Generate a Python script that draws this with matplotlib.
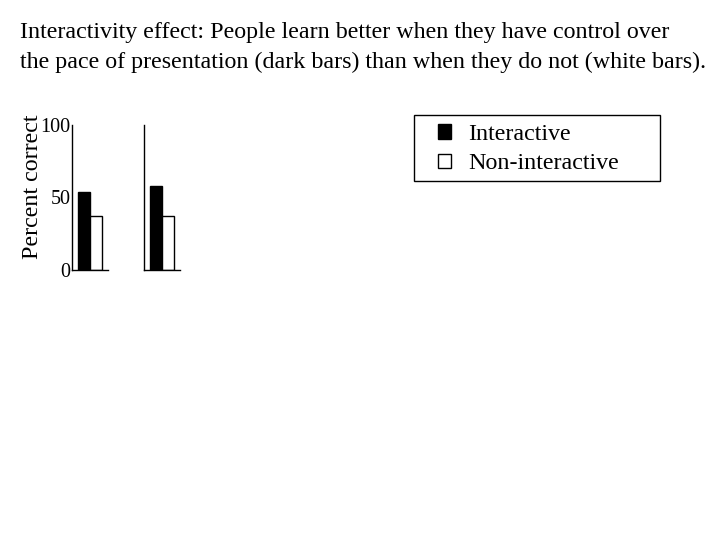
import matplotlib
matplotlib.use("Agg")
import matplotlib.pyplot as plt
from matplotlib.patches import Patch, Rectangle

groups = ["Group 1", "Group 2"]
interactive = [54, 58]
non_interactive = [37, 37]
yticks = [0, 50, 100]
ytick_labels = ["0", "50", "100"]
title_lines = ["Interactivity effect: People learn better when they have control over",
               "the pace of presentation (dark bars) than when they do not (white bars)."]
legend_labels = ["Interactive", "Non-interactive"]

plt.rcParams['font.family'] = ['Liberation Serif', 'DejaVu Serif']
W, H = 720, 540
fig = plt.figure(figsize=(7.2, 5.4), dpi=100)

fig.text(20 / W, 1 - 38 / H, title_lines[0], fontsize=17.3, va='baseline', ha='left')
fig.text(20 / W, 1 - 68 / H, title_lines[1], fontsize=17.3, va='baseline', ha='left')

panel_left = [72, 144]
for i, x0 in enumerate(panel_left):
    ax = fig.add_axes([x0 / W, 1 - 270 / H, 36 / W, 145 / H])
    ax.bar([0.5], [interactive[i]], width=1, align='edge', color='black', edgecolor='black', linewidth=1)
    ax.bar([1.5], [non_interactive[i]], width=1, align='edge', color='white', edgecolor='black', linewidth=1)
    ax.set_xlim(0, 3)
    ax.set_ylim(0, 100)
    for s in ['top', 'right']:
        ax.spines[s].set_visible(False)
    ax.spines['left'].set_linewidth(1)
    ax.spines['bottom'].set_linewidth(1)
    ax.set_xticks([])
    if i == 0:
        ax.set_yticks(yticks)
        ax.set_yticklabels(ytick_labels, fontsize=14.5)
        ax.tick_params(axis='y', length=0, pad=1)
    else:
        ax.set_yticks([])

fig.text(32 / W, 1 - 186.5 / H, "Percent correct", fontsize=17.3, rotation=90,
         ha='center', va='center')

fig.patches.append(Rectangle((414 / W, 1 - 181 / H), 246 / W, 66 / H,
                             transform=fig.transFigure, fill=False,
                             edgecolor='black', linewidth=1))

handles = [Patch(facecolor='black', edgecolor='black'),
           Patch(facecolor='white', edgecolor='black')]
leg = fig.legend(handles, legend_labels, loc='upper left',
                 bbox_to_anchor=(438 / W, 1 - 124 / H), fontsize=17.3,
                 frameon=False,
                 handlelength=0.55, handleheight=0.55, handletextpad=0.7,
                 borderpad=0, labelspacing=0.35, borderaxespad=0)

fig.savefig("out.png", dpi=100)
